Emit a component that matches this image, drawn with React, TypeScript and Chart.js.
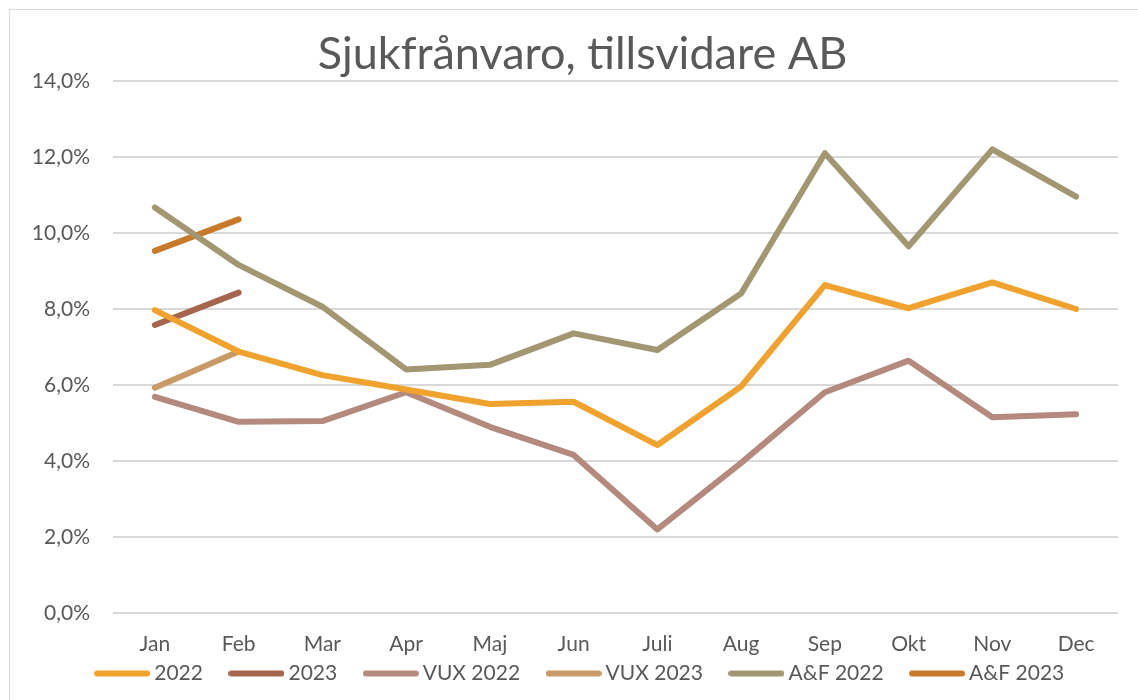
import { useEffect, useRef } from "react";
import { Chart, registerables } from "chart.js";

Chart.register(...registerables);

const months = ["Jan", "Feb", "Mar", "Apr", "Maj", "Jun", "Juli", "Aug", "Sep", "Okt", "Nov", "Dec"];
const sick2022 = [7.97, 6.88, 6.26, 5.88, 5.5, 5.56, 4.42, 5.96, 8.63, 8.02, 8.7, 8.0];
const sick2023 = [7.58, 8.43, null, null, null, null, null, null, null, null, null, null];
const vux2022 = [5.69, 5.03, 5.05, 5.81, 4.9, 4.16, 2.2, 3.95, 5.81, 6.64, 5.15, 5.23];
const vux2023 = [5.93, 6.88, null, null, null, null, null, null, null, null, null, null];
const af2022 = [10.67, 9.16, 8.06, 6.41, 6.53, 7.36, 6.92, 8.41, 12.1, 9.65, 12.2, 10.96];
const af2023 = [9.53, 10.36, null, null, null, null, null, null, null, null, null, null];
const seriesNames = ["2022", "2023", "VUX 2022", "VUX 2023", "A&F 2022", "A&F 2023"];
const seriesColors = ["#F0A22E", "#A5644E", "#B48A7E", "#C89A68", "#A39672", "#C87A2C"];
const yMin = 0;
const yMax = 14;
const yStep = 2;

const FONT = "Lato, 'Open Sans', sans-serif";
const TEXT = "#595959";

function legendLine(color: string): HTMLCanvasElement {
  const c = document.createElement("canvas");
  c.width = 56;
  c.height = 8;
  const ctx = c.getContext("2d")!;
  ctx.strokeStyle = color;
  ctx.lineWidth = 6;
  ctx.lineCap = "round";
  ctx.beginPath();
  ctx.moveTo(3, 4);
  ctx.lineTo(53, 4);
  ctx.stroke();
  return c;
}

export default function App() {
  const ref = useRef<HTMLCanvasElement | null>(null);

  useEffect(() => {
    if (!ref.current) return;
    const allSeries = [sick2022, sick2023, vux2022, vux2023, af2022, af2023];
    const chart = new Chart(ref.current, {
      type: "line",
      data: {
        labels: months,
        datasets: allSeries.map((d, i) => ({
          label: seriesNames[i],
          data: d,
          borderColor: seriesColors[i],
          backgroundColor: seriesColors[i],
          borderWidth: 6,
          borderCapStyle: "round" as const,
          borderJoinStyle: "round" as const,
          pointStyle: legendLine(seriesColors[i]) as any,
          pointRadius: 0,
          pointHoverRadius: 0,
          tension: 0,
          spanGaps: false,
          fill: false,
        })),
      },
      options: {
        animation: false,
        responsive: false,
        maintainAspectRatio: false,
        layout: { padding: { left: 37, right: 31, top: 0, bottom: 7 } },
        plugins: {
          title: {
            display: true,
            text: "Sjukfrånvaro, tillsvidare AB",
            color: TEXT,
            font: { family: FONT, size: 45, weight: "normal" },
            padding: { top: 17, bottom: 0 },
          },
          legend: {
            position: "bottom",
            labels: {
              color: TEXT,
              font: { family: FONT, size: 21 },
              usePointStyle: true,
              pointStyleWidth: 43,
              boxHeight: 8,
              padding: 32,
            },
          },
          tooltip: { enabled: false },
        },
        scales: {
          x: {
            offset: true,
            grid: { display: false, drawTicks: false },
            border: { display: false },
            ticks: {
              color: TEXT,
              font: { family: FONT, size: 21 },
              padding: 19,
              maxRotation: 0,
            },
            afterFit: (scale: any) => {
              scale.height = 18;
              scale._computeLabelArea = () => undefined;
            },
          },
          y: {
            min: yMin,
            max: yMax,
            grid: { color: "#d9d9d9", lineWidth: 2, drawTicks: false },
            border: { display: false },
            ticks: {
              stepSize: yStep,
              color: TEXT,
              font: { family: FONT, size: 21 },
              padding: 23,
              callback: (v: any) => Number(v).toFixed(1).replace(".", ",") + "%",
            },
            afterFit: (scale: any) => {
              scale.width = 66;
              scale._computeLabelArea = () => undefined;
            },
          },
        },
      },
    });
    return () => chart.destroy();
  }, []);

  return (
    <div
      style={{
        position: "fixed",
        left: 9,
        top: 9,
        width: 1141,
        height: 693,
        border: "1px solid #d9d9d9",
        boxSizing: "border-box",
        background: "#fff",
        overflow: "hidden",
      }}
    >
      <canvas ref={ref} width={1139} height={691} style={{ display: "block" }} />
    </div>
  );
}
